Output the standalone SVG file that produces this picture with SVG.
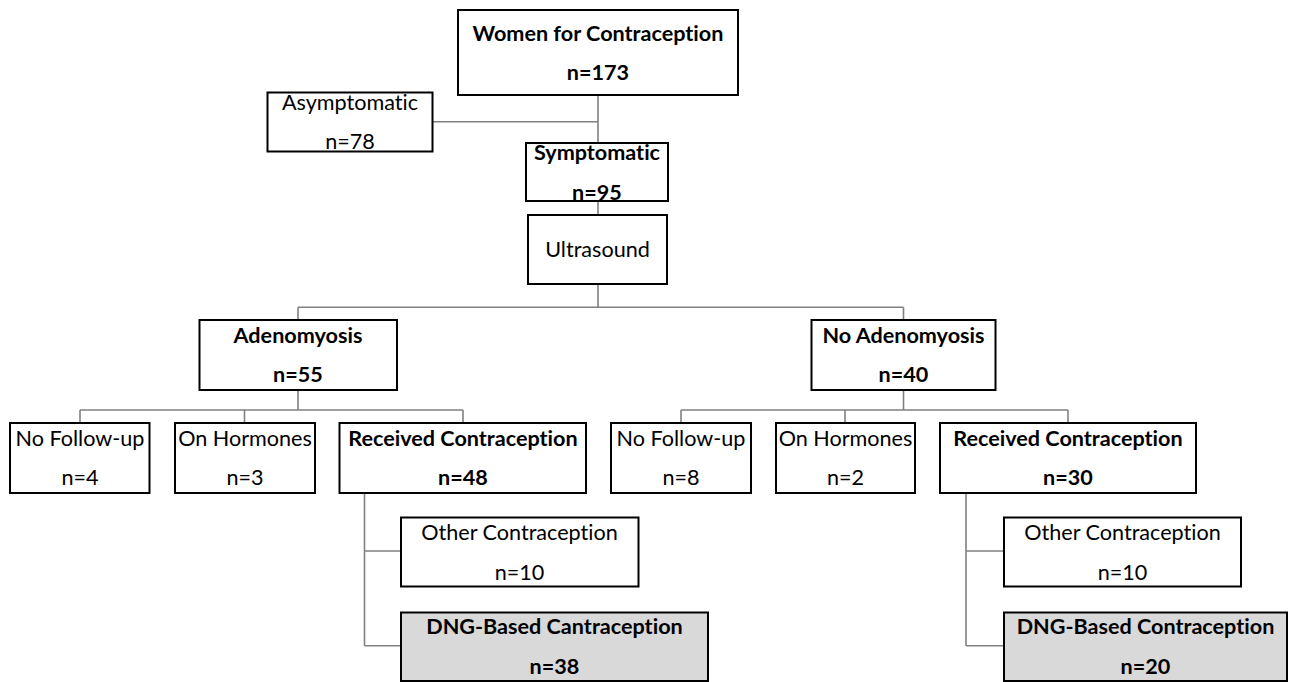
<svg xmlns="http://www.w3.org/2000/svg" width="1289" height="682" viewBox="0 0 1289 682">
<style>
.box{fill:#fff;stroke:#000;stroke-width:2}
.grey{fill:#d9d9d9;stroke:#000;stroke-width:2}
.t{font-family:Lato,"Liberation Sans",sans-serif;font-size:21.6px;fill:#000;text-anchor:middle;font-variant-ligatures:none;font-feature-settings:"liga" 0}
.b{font-weight:bold}
.c{fill:none;stroke:#808080;stroke-width:1.6}
</style>
<rect width="1289" height="682" fill="#fff"/>
<g id="connectors">
<path class="c" d="M598,95V143M432,121.7H598"/>
<path class="c" d="M598,201V215"/>
<path class="c" d="M598,284V307.3M298,307.3H903.5M298,307.3V320M903.5,307.3V320"/>
<path class="c" d="M298,390V410M80,410H463M80,410V423M244.5,410V423M463,410V423"/>
<path class="c" d="M903.5,390V410M681,410H1068M681,410V423M845,410V423M1068,410V423"/>
<path class="c" d="M364.5,493V645.7M364.5,551H401M364.5,645.7H401"/>
<path class="c" d="M966,493V645.7M966,551H1004M966,645.7H1004"/>
</g>
<g id="n-women"><rect class="box" x="458" y="10" width="280" height="85"/><text class="t b" x="598" y="40.5">Women for Contraception</text><text class="t b" x="598" y="80">n=173</text></g>
<g id="n-asym"><rect class="box" x="267.5" y="92.5" width="165" height="59"/><text class="t" x="350" y="110">Asymptomatic</text><text class="t" x="350" y="149">n=78</text></g>
<g id="n-sym"><rect class="box" x="526" y="143" width="142" height="58"/><text class="t b" x="597" y="160">Symptomatic</text><text class="t b" x="597" y="199.5">n=95</text></g>
<g id="n-us"><rect class="box" x="528" y="215" width="139" height="69"/><text class="t" x="597.5" y="257">Ultrasound</text></g>
<g id="n-adeno"><rect class="box" x="199.5" y="320" width="197.5" height="70"/><text class="t b" x="298" y="342.5">Adenomyosis</text><text class="t b" x="298" y="381.5">n=55</text></g>
<g id="n-noadeno"><rect class="box" x="811.5" y="320" width="184" height="70"/><text class="t b" x="903.5" y="342.5">No Adenomyosis</text><text class="t b" x="903.5" y="381.5">n=40</text></g>
<g id="n-nfu1"><rect class="box" x="10" y="423" width="139.5" height="70"/><text class="t" x="80" y="445.5">No Follow-up</text><text class="t" x="80" y="484.5">n=4</text></g>
<g id="n-hor1"><rect class="box" x="175" y="423" width="140" height="70"/><text class="t" x="245" y="445.5">On Hormones</text><text class="t" x="245" y="484.5">n=3</text></g>
<g id="n-rec1"><rect class="box" x="339.5" y="423" width="246.5" height="70"/><text class="t b" x="463" y="445.5">Received Contraception</text><text class="t b" x="463" y="484.5">n=48</text></g>
<g id="n-nfu2"><rect class="box" x="611" y="423" width="140" height="70"/><text class="t" x="681" y="445.5">No Follow-up</text><text class="t" x="681" y="484.5">n=8</text></g>
<g id="n-hor2"><rect class="box" x="776" y="423" width="139" height="70"/><text class="t" x="845.5" y="445.5">On Hormones</text><text class="t" x="845.5" y="484.5">n=2</text></g>
<g id="n-rec2"><rect class="box" x="940" y="423" width="256" height="70"/><text class="t b" x="1068" y="445.5">Received Contraception</text><text class="t b" x="1068" y="484.5">n=30</text></g>
<g id="n-oth1"><rect class="box" x="401" y="517.5" width="237.5" height="69"/><text class="t" x="519.5" y="540">Other Contraception</text><text class="t" x="519.5" y="579.5">n=10</text></g>
<g id="n-dng1"><rect class="grey" x="401" y="612.5" width="307" height="68.5"/><text class="t b" x="554.5" y="634">DNG-Based Cantraception</text><text class="t b" x="554.5" y="673.5">n=38</text></g>
<g id="n-oth2"><rect class="box" x="1004" y="517.5" width="237" height="69"/><text class="t" x="1122.5" y="540">Other Contraception</text><text class="t" x="1122.5" y="579.5">n=10</text></g>
<g id="n-dng2"><rect class="grey" x="1004" y="612.5" width="283" height="68.5"/><text class="t b" x="1145.5" y="634">DNG-Based Contraception</text><text class="t b" x="1145.5" y="673.5">n=20</text></g>
</svg>
